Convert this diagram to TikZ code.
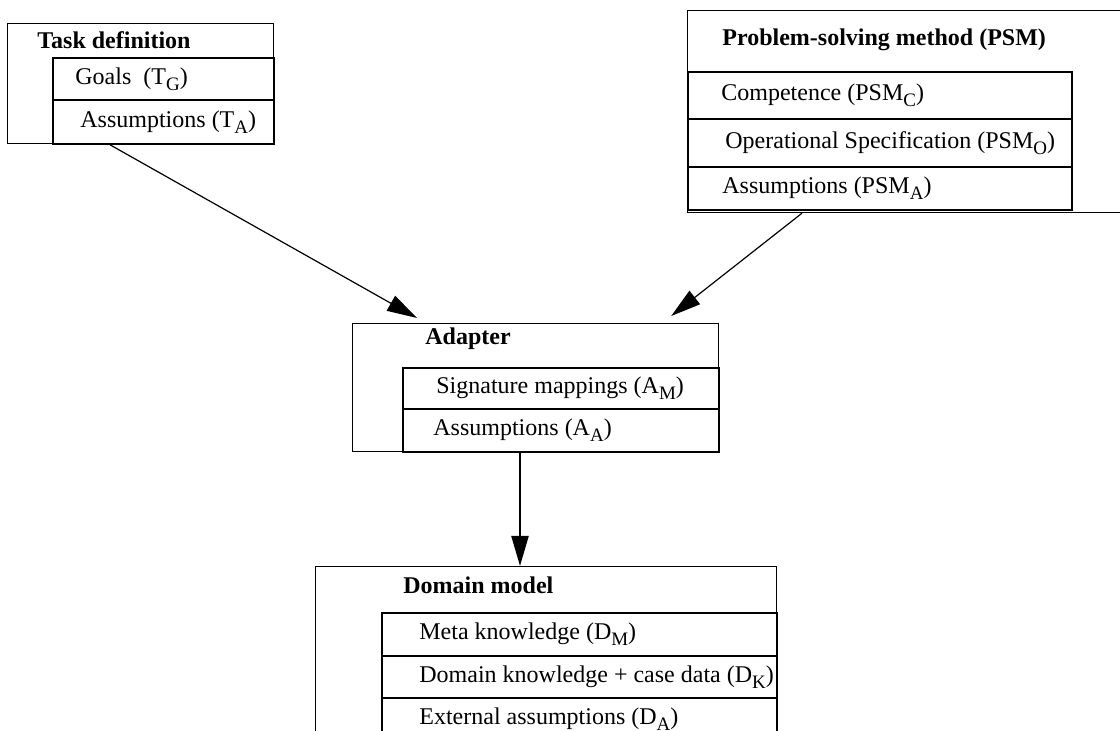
\documentclass[tikz,border=0pt]{standalone}
\usepackage{fontspec}
\setmainfont{Liberation Serif}
\usetikzlibrary{arrows.meta,positioning}
\newcommand{\lowsub}[1]{\raisebox{-0.55ex}{\fontsize{9.5pt}{11pt}\selectfont #1}}

\begin{document}
\begin{tikzpicture}[
      x=0.5pt,y=-0.5pt,
      >={Triangle[length=15pt,width=8.5pt]},
      outerbox/.style={draw,line width=0.6pt,anchor=north west,inner sep=0pt},
      rowbox/.style={draw,line width=0.9pt,anchor=north west,inner sep=0pt},
      rowtext/.style 2 args={label={[anchor=west,xshift=#1,inner sep=0pt,
                   font=\fontsize{12pt}{14pt}\selectfont]west:#2}},
      boxtitle/.style={anchor=west,inner sep=0pt,
                   font=\fontsize{12pt}{14pt}\selectfont\bfseries},
      arrow/.style={->,line width=0.6pt}
    ]
    \useasboundingbox (0,0) rectangle (1120,731);
    \clip (0,0) rectangle (1120,731);
    % task definition
    \node[outerbox,minimum width=133pt,minimum height=60pt] (task) at (7,23) {};
    \node[boxtitle] (tasktitle) at (37,40) {Task definition};
    \node[rowbox,minimum width=110.5pt,minimum height=21pt,
      rowtext={11.5pt}{Goals~ (T\lowsub{G})}] (goals) at (52,57) {};
    \node[rowbox,minimum width=110.5pt,minimum height=22pt,
      rowtext={14pt}{Assumptions (T\lowsub{A})}] (tassum) at (52,99) {};
    % problem-solving method
    \node[outerbox,minimum width=221.5pt,minimum height=101pt] (psm) at (687,10) {};
    \node[boxtitle] (psmtitle) at (722,40) {Problem-solving method (PSM)};
    \node[rowbox,minimum width=192pt,minimum height=23.5pt,
      rowtext={17pt}{Competence (PSM\lowsub{C})}] (comp) at (687,71) {};
    \node[rowbox,minimum width=192pt,minimum height=24pt,
      rowtext={19pt}{Operational Specification (PSM\lowsub{O})}] (opspec) at (687,118) {};
    \node[rowbox,minimum width=192pt,minimum height=21.5pt,
      rowtext={17.5pt}{Assumptions (PSM\lowsub{A})}] (psmassum) at (687,166) {};
    % adapter
    \node[outerbox,minimum width=183pt,minimum height=64pt] (adapter) at (352,323) {};
    \node[boxtitle] (adaptertitle) at (425,339) {Adapter};
    \node[rowbox,minimum width=158pt,minimum height=20.5pt,
      rowtext={17pt}{Signature mappings (A\lowsub{M})}] (sigmap) at (402,367) {};
    \node[rowbox,minimum width=158pt,minimum height=21.5pt,
      rowtext={15.5pt}{Assumptions (A\lowsub{A})}] (aassum) at (402,408) {};
    % domain model
    \node[outerbox,minimum width=230.5pt,minimum height=97pt] (domain) at (315,566) {};
    \node[boxtitle] (domaintitle) at (403,585) {Domain model};
    \node[rowbox,minimum width=197.5pt,minimum height=21.5pt,
      rowtext={19pt}{Meta knowledge (D\lowsub{M})}] (meta) at (381,612) {};
    \node[rowbox,minimum width=197.5pt,minimum height=21pt,
      rowtext={19pt}{Domain knowledge + case data (D\lowsub{K})}] (dknow) at (381,655) {};
    \node[rowbox,minimum width=197.5pt,minimum height=21.5pt,
      rowtext={19pt}{External assumptions (D\lowsub{A})}] (extassum) at (381,697) {};
    \draw[arrow] ([xshift=29pt]tassum.south west) -- ([xshift=32.5pt,yshift=2.5pt]adapter.north west);
    \draw[arrow] ([xshift=57.5pt]psm.south west) -- ([xshift=-24pt,yshift=3.5pt]adapter.north east);
    \draw[arrow,line width=1.1pt] ([xshift=84pt]adapter.south west) -- ([xshift=102.5pt]domain.north west);
  \end{tikzpicture}
\end{document}
